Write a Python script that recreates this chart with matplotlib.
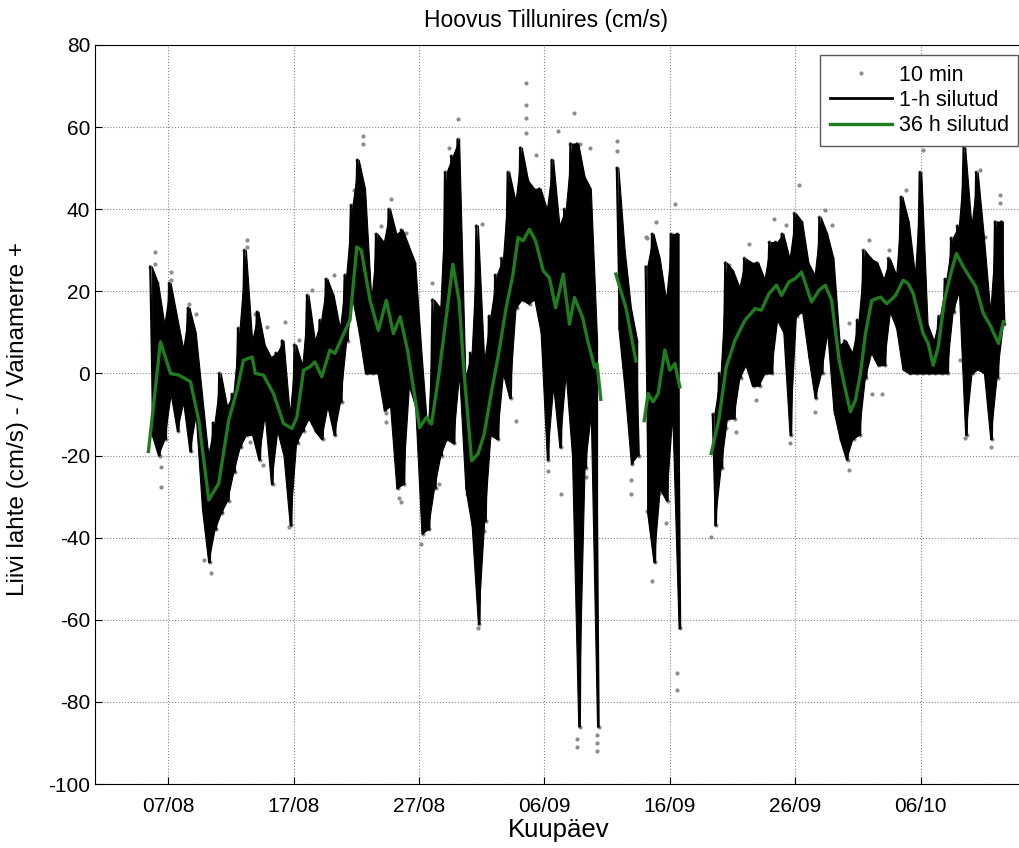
import matplotlib
matplotlib.use("Agg")
import matplotlib.pyplot as plt
import matplotlib.dates as mdates
from matplotlib.lines import Line2D
import numpy as np

plt.rcParams["font.family"] = ["Liberation Sans", "DejaVu Sans"]
plt.rcParams["axes.unicode_minus"] = False

# time is counted in days from 1 Aug
T0 = np.datetime64("2009-08-01T00:00")

# 1-h smoothed current: high and low of each half-day, per continuous record piece
seg_start = [4.45, 41.65, 43.95, 49.3]
seg_hi = [
    [26, 22, 12, 22, 14, 6, 16, 10, -5, -20, -12, 0, -8, -5, 11, 30, 8, 15,
     7, 4, 5, 8, -10, 7, 2, 19, 8, 13, 23, 19, 11, 24, 41, 52, 45, 18, 34, 32,
     40, 34, 35, 31, 27, 5, -15, 18, 16, 49, 53, 57, -1, 5, 36, 3, 14, 24, 28,
     49, 42, 55, 47, 45, 45, 40, 52, 36, 40, 56, 56, 48, 45, 8],
    [50, 30, 16, 8],
    [26, 34, 28, 18, 34, 34],
    [-10, 0, 27, 25, 21, 28, 27, 27, 23, 32, 32, 34, 28, 39, 37, 27, 24, 38,
     34, 28, 7, 8, 5, 13, 30, 28, 27, 23, 28, 24, 43, 37, 24, 49, 12, 8, 14,
     23, 33, 36, 55, 36, 49, 33, 15, 37, 37],
]
seg_lo = [
    [-15, -20, -16, -5, -14, -7, -19, -10, -33, -46, -38, -34, -31, -24, -18,
     -15, -15, -21, -10, -27, -14, -20, -37, -17, -14, -11, -14, -16, -8, -15,
     -7, 8, 18, 10, 0, 0, 0, -9, -8, -28, -27, -3, -8, -39, -38, -28, -20, -16,
     -17, 0, -28, -37, -61, -36, -15, -16, 0, -6, 16, 18, 17, 18, 10, -21, -3,
     -18, 0, -20, -86, -23, -10, -86],
    [11, -4, -22, -20],
    [-34, -46, -28, -31, -10, -62],
    [-37, -23, -11, -11, -1, 2, -3, -3, 0, 0, 13, 10, -15, 14, 15, 4, -6, 0,
     10, -9, -16, -21, -16, -15, -1, 5, 2, 2, 15, 11, 1, 0, 0, 0, 0, 0, 0, 0,
     15, 20, -15, 0, 1, 0, -16, -1, 12],
]

# 36 h smoothed current (nan marks a break in the record)
green_t = [4.43, 5.39, 6.19, 6.85, 7.78, 8.44, 9.24, 10.03, 10.83, 11.5, 12.0,
           12.7, 12.95, 13.6, 14.4, 15.2, 15.87, 16.27, 16.8, 17.3, 17.7,
           18.25, 18.9, 19.3, 20.0, 20.5, 21.04, 21.4, 22.1, 22.76, 23.4,
           23.96, 24.5, 25.1, 26.05, 26.6, 27.0, 27.6, 28.2, 28.7, 29.2, 29.6,
           30.2, 30.7, 31.2, 31.75, 32.3, 32.95, 33.5, 33.9, 34.3, 34.8, 35.3,
           35.9, 36.4, 36.9, 37.5, 38.0, 38.4, 39.05, 39.45, 40.0, 40.2, 40.5,
           np.nan, 41.7, 42.5, 43.3,
           np.nan, 43.96, 44.27, 44.67, 45.07, 45.6, 46.0, 46.4, 46.8,
           np.nan, 49.3, 49.9, 50.5, 51.2, 52.0, 52.8, 53.3, 53.9, 54.5, 54.9,
           55.5, 56.0, 56.5, 57.3, 57.9, 58.4, 58.9, 59.5, 60.0, 60.4, 60.8,
           61.2, 61.6, 62.1, 62.8, 63.3, 64.0, 64.6, 65.0, 65.4, 65.8, 66.2,
           66.6, 67.0, 67.4, 67.9, 68.4, 68.85, 69.4, 69.9, 70.4, 71.0, 71.6,
           72.2, 72.6]
green_v = [-19, 7.7, 0, -0.4, -2, -11.4, -30.8, -26.8, -11.4, -4, 3.2,
           4, 0, -0.4, -4.9, -12.2, -13.4, -10.6, 0.8, 1.6, 2.8,
           -0.8, 5.7, 4.9, 9.7, 13, 30.8, 30, 17.8, 10.5, 17.8,
           9.7, 13.8, 5.5, -13.2, -10.7, -12.3, 0, 14.4, 26.6, 17.7, 0,
           -21.3, -19.6, -14.8, -5, 3.9, 16, 24.2, 33.1, 32.3, 35.1, 32.3,
           25, 23.3, 16, 24.2, 12, 18.5, 13.6, 8, 1.5, 2.3, -6.3,
           np.nan, 24.2, 16, 3,
           np.nan, -11.5, -4.9, -6.9, -4.9, 5.7, 0.8, 2.4, -3.3,
           np.nan, -19.5, -11.4, 1.6, 8.1, 13, 15.8, 15.4, 19.4, 21.5, 19,
           22.3, 23.1, 24.7, 17.4, 20.3, 21.5, 17.8, 3.2, -4, -9.3, -6.5,
           0, 9.7, 17.8, 18.6, 17, 19, 22.7, 21.9, 19.5, 14.6, 9.7,
           7.3, 2, 6.5, 17.9, 24.3, 29.2, 26, 23.5, 21.1, 14.6, 11.4,
           7.3, 12.6]

# 10-min readings standing out past the hourly curve
dots_t = [4.94, 4.94, 6.19, 6.19, 5.44, 5.44, 7.64, 8.25, 8.84, 9.42, 9.1,
          12.29, 12.29, 12.95, 13.6, 13.9, 15.3, 15.65, 16.4, 17.46, 18.4,
          19.2, 20.8, 21.5, 21.5, 23.8, 23.0, 23.4, 23.4, 24.4, 12.55,
          24.6, 25.0, 26.2, 27.0, 27.6, 29.1, 28.4, 29.8, 30.4, 31.0, 30.7,
          31.2, 33.75, 34.5, 34.5, 34.5, 34.5, 35.3, 36.3, 37.1, 37.3, 38.4,
          38.8, 39.6, 39.3, 38.6, 38.6, 40.2, 40.2, 40.2,
          41.75, 41.75, 42.9, 42.9, 44.2, 44.2, 44.6, 44.1, 44.9, 46.4, 45.2,
          45.7, 46.6, 46.6,
          49.3, 50.7, 50.5, 51.3, 52.3, 52.9, 54.3, 55.3, 55.6, 56.3, 57.6,
          58.4, 58.9, 59.2, 60.3, 60.3, 61.9, 62.1, 62.9, 63.5, 64.86, 66.2,
          69.4, 70.7, 72.3, 72.3, 69.5, 71.6, 64.9, 69.1, 71.1]
dots_v = [29.6, 26.7, 24.7, 22.7, -22.7, -27.6, 17, 14.6, -45.4, -48.7, -18.3,
          32.4, 30.8, 14.6, -22.3, 11.3, 12.6, -37.3, 8.1, 20.3, 15.4,
          23.9, 44.6, 57.8, 56, 42.6, 36, -9.7, -11.8, -30.4, -16.6,
          -31.4, 34.3, -41.5, 22.1, -26.9, 61.9, 55, -29.4, -38.3, 36.3, -62,
          -38.3, -11.5, 70.8, 65.5, 62.3, 58.5, 53.3, -23.7, 59, -29.4, 63.5,
          55.8, 55, -25.3, -89, -91, -88, -90, -92,
          56.6, 54.2, -26, -29.4, 33.1, -33.4, -50.5, 33.2, 36.9, 41.3, -29.2,
          -36.5, -73, -77,
          -39.8, 26.3, -13.4, -14.2, 31.6, -6.5, 37.7, 36.1, -17, 45.8, -9.3,
          39.7, 36.1, -9.7, 12.2, -23.5, 32.4, -4.9, -4.9, 30, 44.6, 54.4,
          55.6, 49.5, 43.4, 41.4, -15.8, -17.8, 1.6, 3.3, 33.3]

tick_days = ["2009-08-07", "2009-08-17", "2009-08-27", "2009-09-06",
             "2009-09-16", "2009-09-26", "2009-10-06"]


def to_time(days):
    sec = np.round(np.asarray(days, dtype=float) * 86400)
    out = np.full(sec.shape, np.datetime64("NaT"), dtype="datetime64[s]")
    ok = ~np.isnan(sec)
    out[ok] = T0 + sec[ok].astype("timedelta64[s]")
    return out


fig = plt.figure(figsize=(10.19, 8.48), dpi=100)
ax = fig.add_axes([95 / 1019, 1 - 784 / 848, 928 / 1019, 739 / 848])

gray = "#8c8c8c"
green = "#1f7d1f"

# hourly curve: each half-day goes up to its high, then down to its low
hour_t, hour_v = [], []
for start, hi, lo in zip(seg_start, seg_hi, seg_lo):
    tt, vv = [], []
    for i, (h, l) in enumerate(zip(hi, lo)):
        tt += [start + 0.5 * i + 0.125, start + 0.5 * i + 0.375]
        vv += [h, l]
    hour_t.append(tt)
    hour_v.append(vv)

all_t = np.concatenate([np.concatenate(hour_t), dots_t])
all_v = np.concatenate([np.concatenate(hour_v), dots_v])
ax.plot(to_time(all_t), all_v, ls="none", marker=".", ms=4, color=gray,
        zorder=2)

# the hourly swings are packed too tight to tell apart: shade the band they span
for start, hi, lo, tt, vv in zip(seg_start, seg_hi, seg_lo, hour_t, hour_v):
    mid = to_time([start + 0.5 * i + 0.25 for i in range(len(hi))])
    ax.fill_between(mid, lo, hi, color="black", lw=0.8, zorder=3)
    ax.plot(to_time(tt), vv, color="black", lw=1.6, zorder=3)

gt = to_time(green_t)
ax.plot(gt, green_v, color=green, lw=2.4, zorder=4)

ax.set_xlim(to_time([0.17, 74.16]))
ax.set_ylim(-100, 80)
ax.set_yticks(np.arange(-100, 81, 20))
ax.set_xticks(np.array(tick_days, dtype="datetime64[s]"))
ax.xaxis.set_major_formatter(mdates.DateFormatter("%d/%m"))
ax.tick_params(direction="in", length=5, labelsize=15, width=0.8)
ax.tick_params(axis="x", pad=9)
ax.grid(True, ls=":", color="#888888", lw=0.8)
for sp in ax.spines.values():
    sp.set_linewidth(0.8)

fig.text(546 / 1019, 1 - 21 / 848, "Hoovus Tillunires (cm/s)", fontsize=16.5,
         ha="center", va="center")
ax.set_xlabel("Kuupäev", fontsize=18.5, labelpad=2)
ax.set_ylabel("Liivi lahte (cm/s) - / Vainamerre +", fontsize=17.5,
              labelpad=5)
ax.yaxis.set_label_coords(-0.071, 0.494)

handles = [
    Line2D([], [], ls="none", marker=".", ms=4, color=gray),
    Line2D([], [], color="black", lw=2),
    Line2D([], [], color=green, lw=2.4),
]
ax.legend(handles, ["10 min", "1-h silutud", "36 h silutud"], loc="upper left",
          bbox_to_anchor=(820 / 1019, 1 - 55 / 848), bbox_transform=fig.transFigure,
          fontsize=15.5, handlelength=2.9, fancybox=False, edgecolor="0.35",
          framealpha=1, borderpad=0.45, labelspacing=0.2, handletextpad=0.3,
          borderaxespad=0)

fig.savefig("out.png", dpi=100)
